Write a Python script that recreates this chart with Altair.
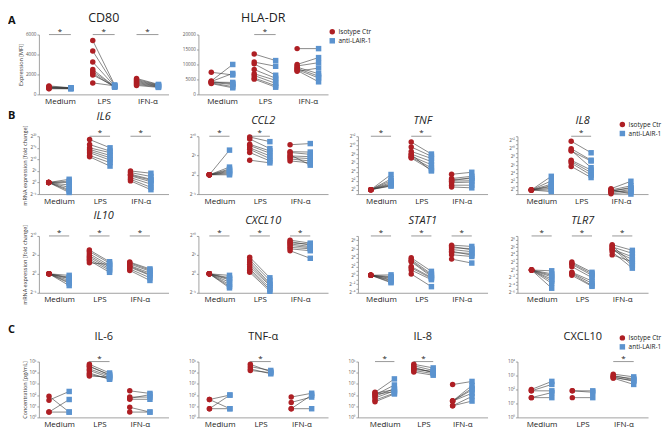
import math
import altair as alt
import pandas as pd

FONT = "Open Sans"
CONDITIONS = ["Medium", "LPS", "IFN-α"]
GROUPS = ["Isotype Ctr", "anti-LAIR-1"]
GROUP_COLORS = ["#AE1F24", "#5B93CF"]
GROUP_SHAPES = ["circle", "square"]
ROW_LETTERS = ["A", "B", "", "C"]

# ---------------- A: surface expression (MFI) ----------------
CD80_ISO = [[850, 780, 720, 680, 640, 600, 560, 700],
            [5400, 4350, 3250, 2500, 2300, 2100, 1950, 1150],
            [1600, 1500, 1400, 1300, 1200, 1100, 1000, 900]]
CD80_ANTI = [[660, 640, 620, 610, 600, 580, 560, 640],
             [950, 880, 820, 780, 760, 720, 800, 860],
             [1000, 950, 900, 860, 820, 780, 740, 700]]
HLADR_ISO = [[7400, 4500, 4300, 4100, 4000, 3800, 3600, 4200],
             [13500, 10800, 10200, 8300, 6900, 6300, 5500, 5100],
             [15300, 10000, 9500, 9100, 8700, 8300, 8000, 7700]]
HLADR_ANTI = [[6500, 10000, 7000, 4000, 3300, 2600, 2200, 3600],
              [11300, 9400, 6400, 5400, 4700, 3700, 2900, 2400],
              [15300, 12300, 10600, 6900, 6100, 5500, 4200, 8800]]

# ---------------- B: mRNA, log2 fold change ----------------
IL6_ISO = [[0, 0, 0, 0, 0, 0, 0, 0],
           [18.6, 16.4, 15.0, 14.3, 13.6, 12.9, 11.7, 11.1],
           [5.0, 4.3, 3.6, 2.9, 2.1, 1.4, 0.7, 3.2]]
IL6_ANTI = [[1.4, 0.6, 0, -1.1, -2.1, -3.0, -3.6, -4.3],
            [15.0, 13.6, 12.9, 11.7, 10.7, 9.7, 8.6, 7.1],
            [4.0, 2.6, 1.4, 0.3, -0.7, -2.1, -3.1, 1.0]]
CCL2_ISO = [[0, 0, 0, 0, 0, 0, 0, 0],
            [9.8, 9.3, 7.9, 7.6, 7.0, 6.6, 5.8, 3.8],
            [7.8, 6.0, 5.8, 4.9, 4.5, 4.1, 3.6, 5.2]]
CCL2_ANTI = [[6.4, 2.0, 1.5, 1.2, 0.9, 0.6, 0.3, 0.0],
             [8.6, 6.8, 6.2, 5.6, 4.9, 4.2, 3.6, 3.1],
             [8.1, 5.9, 5.3, 4.7, 4.2, 3.6, 3.1, 2.5]]
TNF_ISO = [[0, 0, 0, 0, 0, 0, 0, 0],
           [10.7, 9.6, 8.6, 8.0, 7.5, 7.3, 7.1, 7.9],
           [3.45, 2.5, 2.25, 1.9, 1.55, 1.0, 0.6, 2.0]]
TNF_ANTI = [[3.4, 2.4, 2.0, 1.6, 1.3, 1.1, 0.9, 0.8],
            [8.0, 7.5, 7.0, 6.3, 5.6, 4.9, 4.4, 4.2],
            [3.9, 3.0, 2.5, 2.0, 1.7, 1.0, 0.4, 2.7]]
IL8_ISO = [[0, 0, 0, 0, 0, 0, 0, 0],
           [11.8, 10.0, 9.6, 7.2, 6.9, 6.5, 5.7, 9.4],
           [0.3, 0.0, -0.3, -0.6, -0.9, 0.1, -0.2, -0.5]]
IL8_ANTI = [[3.3, 2.2, 1.4, 0.8, 0.4, 0.0, -0.4, 1.0],
            [9.0, 7.2, 5.4, 4.8, 4.2, 3.6, 3.0, 7.0],
            [2.1, 1.0, 0.6, 0.1, -0.6, -1.0, 0.4, -0.3]]
IL10_ISO = [[0, 0, 0, 0, 0, 0, 0, 0],
            [6.3, 5.9, 5.3, 4.8, 4.4, 3.9, 3.5, 2.9],
            [3.1, 2.6, 2.2, 1.75, 1.3, 0.9, 2.9, 2.0]]
IL10_ANTI = [[-0.4, -0.9, -1.3, -1.75, -2.2, -2.5, -3.1, -1.1],
             [3.2, 2.8, 2.2, 1.75, 1.3, 0.9, 0.4, 2.5],
             [1.3, 0.7, 0.2, -0.4, -1.05, -1.75, 1.0, -0.2]]
CXCL10_ISO = [[0, 0, 0, 0, 0, 0, 0, 0],
              [4.4, 3.7, 3.1, 1.9, 1.3, 0.9, 0.4, 2.5],
              [8.9, 8.5, 7.9, 7.0, 6.6, 6.1, 8.2, 7.5]]
CXCL10_ANTI = [[-0.4, -1.05, -1.6, -2.2, -2.8, -3.3, -3.7, -1.3],
               [-1.05, -1.75, -2.5, -3.1, -3.7, -4.2, -4.6, -2.8],
               [8.1, 7.6, 7.2, 6.6, 6.1, 4.1, 7.8, 6.9]]
STAT1_ISO = [[0, 0, 0, 0, 0, 0, 0, 0],
             [4.0, 3.6, 3.1, 1.7, 1.2, 0.3, 3.3, 2.0],
             [6.9, 6.3, 5.9, 5.2, 4.7, 3.7, 6.6, 5.5]]
STAT1_ANTI = [[0.1, -0.3, -0.7, -1.0, -1.5, -1.7, -0.5, -1.2],
              [0.9, 0.3, -0.3, -0.7, -1.0, -2.6, 0.0, -0.5],
              [6.6, 6.1, 5.4, 5.0, 4.3, 2.8, 5.8, 4.6]]
TLR7_ISO = [[0, 0, 0, 0, 0, 0, 0, 0],
            [2.1, 1.5, 0.9, -0.6, -1.0, -1.4, 1.8, -0.8],
            [6.7, 6.1, 5.5, 5.3, 4.0, 6.4, 5.8, 4.8]]
TLR7_ANTI = [[-0.2, -1.0, -1.8, -2.4, -3.5, -4.8, -1.4, -2.9],
             [-0.6, -1.4, -2.0, -2.9, -4.1, -4.3, -1.0, -3.5],
             [5.2, 4.4, 3.5, 2.8, 2.2, 1.7, 1.2, 0.5]]

# ---------------- C: secreted protein (pg/mL) ----------------
CIL6_ISO = [[80, 35, 3, 3],
            [57000, 35000, 22000, 16000, 9500, 7000, 5000, 40000],
            [240, 66, 42, 8, 3, 50]]
CIL6_ANTI = [[3, 210, 40, 3],
             [9500, 7000, 5000, 3600, 2600, 3000, 4200, 6000],
             [140, 66, 42, 3, 3, 110]]
CTNF_ISO = [[40, 40, 6, 6],
            [57000, 35000, 22000, 16000],
            [66, 22, 6, 6]]
CTNF_ANTI = [[100, 6, 100, 6],
             [12000, 16000, 8000, 10000],
             [145, 66, 100, 6]]
CIL8_ISO = [[175, 100, 76, 55, 35, 25, 150, 120],
            [57000, 42000, 25000, 16000, 11500, 30000, 20000],
            [870, 29, 29, 29, 11, 11, 29]]
CIL8_ANTI = [[2800, 800, 380, 240, 150, 125, 300, 200],
             [27000, 16000, 11500, 8300, 6000, 10000, 13000],
             [1660, 720, 290, 145, 76, 29, 400]]
CCXCL10_ISO = [[100, 80, 80, 26, 26],
               [80, 80, 26],
               [1260, 1000, 800, 650, 900, 700]]
CCXCL10_ANTI = [[380, 80, 230, 60, 26],
                [80, 63, 26],
                [800, 500, 380, 230, 600, 450]]

SUP = str.maketrans("-0123456789.", "⁻⁰¹²³⁴⁵⁶⁷⁸⁹·")
OFF = 0.25


def frame(iso, anti):
    rows = []
    for c, (a, b) in enumerate(zip(iso, anti)):
        for d, (u, v) in enumerate(zip(a, b)):
            rows.append({"c": c, "donor": d, "iso": u, "anti": v})
    return pd.DataFrame(rows)


def choose(values, labels):
    expr = "''"
    for v, lab in reversed(list(zip(values, labels))):
        expr = f"datum.value == {v} ? '{lab}' : ({expr})"
    return expr


X_LABELS = choose([0, 1, 2], CONDITIONS)


def legend_at(x, y):
    return alt.Legend(orient="none", legendX=x, legendY=y, title=None,
                      labelFontSize=6.5, labelFont=FONT, labelColor="#222",
                      symbolSize=30, rowPadding=2, padding=0, labelOffset=3,
                      symbolStrokeWidth=0)


def panel(title, iso, anti, sig, kind, ydom, yticks, xdom, width, height,
          title_size=11, italic=False, title_offset=3, ytitle=None, legend=None, label_step=1):
    df = frame(iso, anti)
    if kind == "lin":
        yscale = alt.Scale(domain=ydom, nice=False, zero=False)
        ylab = dict(labelExpr=choose(yticks, ["%d" % t for t in yticks]))
    elif kind == "log2":
        yscale = alt.Scale(domain=ydom, nice=False, zero=False)
        shown = [t for t in yticks if t % label_step == 0]
        ylab = dict(labelExpr=choose(shown, ["2" + ("%g" % t).translate(SUP) for t in shown]))
    else:
        yscale = alt.Scale(type="log", domain=ydom, nice=False)
        ylab = dict(labelExpr=choose(yticks, ["10" + ("%d" % round(math.log10(t))).translate(SUP) for t in yticks]))
    xscale = alt.Scale(domain=xdom, nice=False, zero=False)
    yaxis = alt.Axis(values=yticks, title=ytitle, tickSize=2, labelFontSize=4.6,
                     labelPadding=1, labelOverlap="greedy", labelSeparation=-30,
                     labelFlush=False, labelBound=False,
                     titleFontSize=5.5, titleFontWeight="normal", titlePadding=2, titleColor="#333",
                     labelColor="#555", **ylab)
    xaxis = alt.Axis(values=[0, 1, 2], labelExpr=X_LABELS, ticks=False, title=None,
                     labelFontSize=8, labelPadding=3, labelFlush=False, labelOverlap="greedy",
                     labelSeparation=-30, labelColor="#222")

    lines = alt.Chart(df).transform_calculate(
        xa=f"datum.c - {OFF}", xb=f"datum.c + {OFF}"
    ).mark_rule(color="#3a3a3a", strokeWidth=0.6).encode(
        x=alt.X("xa:Q", scale=xscale, axis=xaxis),
        x2="xb:Q",
        y=alt.Y("iso:Q", scale=yscale, axis=yaxis),
        y2="anti:Q",
    )
    pts = alt.Chart(df).transform_fold(["iso", "anti"], as_=["key", "val"]).transform_calculate(
        xp=f"datum.c + (datum.key == 'iso' ? -{OFF} : {OFF})",
        grp=f"datum.key == 'iso' ? '{GROUPS[0]}' : '{GROUPS[1]}'",
    ).mark_point(filled=True, opacity=1, size=30).encode(
        x=alt.X("xp:Q", scale=xscale, axis=xaxis),
        y=alt.Y("val:Q", scale=yscale, axis=yaxis),
        color=alt.Color("grp:N", scale=alt.Scale(domain=GROUPS, range=GROUP_COLORS), legend=legend),
        shape=alt.Shape("grp:N", scale=alt.Scale(domain=GROUPS, range=GROUP_SHAPES), legend=legend),
    )
    sdf = pd.DataFrame({"c": sig})
    sig_rule = alt.Chart(sdf).transform_calculate(
        xa=f"datum.c - {OFF}", xb=f"datum.c + {OFF}"
    ).mark_rule(color="#555", strokeWidth=0.6).encode(
        x=alt.X("xa:Q", scale=xscale, axis=xaxis), x2="xb:Q",
        y=alt.YDatum(ydom[1], axis=yaxis),
    )
    star = alt.Chart(sdf).mark_text(text="*", fontSize=8, dy=-3, font=FONT, color="#222").encode(
        x=alt.X("c:Q", scale=xscale, axis=xaxis), y=alt.YDatum(ydom[1], axis=yaxis)
    )
    return alt.layer(lines, pts, sig_rule, star).properties(
        width=width, height=height,
        title=alt.TitleParams(title, fontSize=title_size, fontStyle="italic" if italic else "normal",
                              fontWeight="normal", offset=title_offset, font=FONT, color="#222"),
    )


def spacer(letter, h, dy):
    return alt.Chart(pd.DataFrame({"t": [letter]})).mark_text(
        align="left", baseline="middle", fontSize=11, fontWeight="bold", font=FONT, color="#111"
    ).encode(text="t:N", x=alt.value(0), y=alt.value(dy)).properties(width=1, height=h)


B_TICKS_5 = [-5, 0, 5, 10]
C_TICKS = [1, 10, 100, 1000, 10000, 100000]

cd80 = panel("CD80", CD80_ISO, CD80_ANTI, [0, 1, 2], "lin", [0, 6000], [0, 2000, 4000, 6000],
             [-0.48, 2.48], 130, 60, title_size=12.5, title_offset=3, ytitle="Expression [MFI]")
hladr = panel("HLA-DR", HLADR_ISO, HLADR_ANTI, [1], "lin", [0, 20000], [0, 5000, 10000, 15000, 20000],
              [-0.55, 2.47], 130, 60, title_size=12.5, title_offset=3, legend=legend_at(131, -6))

il6 = panel("IL6", IL6_ISO, IL6_ANTI, [1, 2], "log2", [-5, 20], [-5, 0, 5, 10, 15, 20],
            [-0.49, 2.68], 130, 58, italic=True, ytitle="mRNA expression [fold change]")
ccl2 = panel("CCL2", CCL2_ISO, CCL2_ANTI, [0, 1], "log2", [-5, 10], B_TICKS_5,
             [-0.52, 2.69], 130, 58, italic=True)
tnf = panel("TNF", TNF_ISO, TNF_ANTI, [0, 1], "log2", [-1, 12], list(range(-1, 13)),
            [-0.57, 2.64], 130, 58, italic=True, label_step=2)
il8 = panel("IL8", IL8_ISO, IL8_ANTI, [1], "log2", [-1, 13], list(range(-1, 14)),
            [-0.60, 2.68], 131, 58, italic=True, title_offset=-5, legend=legend_at(102, -15),
            label_step=2)

il10 = panel("IL10", IL10_ISO, IL10_ANTI, [0, 1, 2], "log2", [-5, 10], B_TICKS_5,
             [-0.50, 2.71], 130, 57, italic=True, ytitle="mRNA expression [fold change]")
cxcl10 = panel("CXCL10", CXCL10_ISO, CXCL10_ANTI, [0, 1, 2], "log2", [-5, 10], B_TICKS_5,
               [-0.52, 2.69], 130, 57, italic=True)
stat1 = panel("STAT1", STAT1_ISO, STAT1_ANTI, [0, 1, 2], "log2", [-4, 9], list(range(-4, 10)),
              [-0.57, 2.64], 130, 57, italic=True, label_step=2)
tlr7 = panel("TLR7", TLR7_ISO, TLR7_ANTI, [0, 1, 2], "log2", [-6, 9], list(range(-6, 10)),
             [-0.60, 2.64], 131, 57, italic=True, label_step=2)

cil6 = panel("IL-6", CIL6_ISO, CIL6_ANTI, [1], "log", [1, 100000], C_TICKS,
             [-0.50, 2.71], 130, 56, title_offset=13, ytitle="Concentration [pg/mL]")
ctnf = panel("TNF-α", CTNF_ISO, CTNF_ANTI, [1], "log", [1, 100000], C_TICKS,
             [-0.52, 2.65], 130, 56, title_offset=13)
cil8 = panel("IL-8", CIL8_ISO, CIL8_ANTI, [0, 1], "log", [1, 100000], C_TICKS,
             [-0.69, 2.65], 130, 56, title_offset=13)
ccxcl10 = panel("CXCL10", CCXCL10_ISO, CCXCL10_ANTI, [2], "log", [1, 10000], C_TICKS[:5],
                [-0.59, 2.60], 131, 56, title_offset=-7, legend=legend_at(102, -27))

cells = [
    spacer(ROW_LETTERS[0], 60, -14), cd80, hladr, spacer("", 1, 0), spacer("", 1, 0),
    spacer(ROW_LETTERS[1], 1, -20), il6, ccl2, tnf, il8,
    spacer(ROW_LETTERS[2], 84, 0), il10, cxcl10, stat1, tlr7,
    spacer(ROW_LETTERS[3], 1, -32), cil6, ctnf, cil8, ccxcl10,
]

chart = alt.concat(
    *cells, columns=5, spacing=alt.RowColnumber(row=42, column=30), bounds="flush", align="each"
).resolve_scale(
    color="independent", shape="independent"
).resolve_legend(
    color="independent", shape="independent"
).properties(
    padding={"top": 3, "left": 0, "right": 0, "bottom": 0}
).configure_view(strokeWidth=0).configure_axis(
    grid=False, labelFont=FONT, titleFont=FONT, domainColor="#8a8a8a", tickColor="#8a8a8a",
    domainWidth=0.8, tickWidth=0.8, labelColor="#333"
)

chart.save("out.html", embed_options={"renderer": "svg", "actions": False})
